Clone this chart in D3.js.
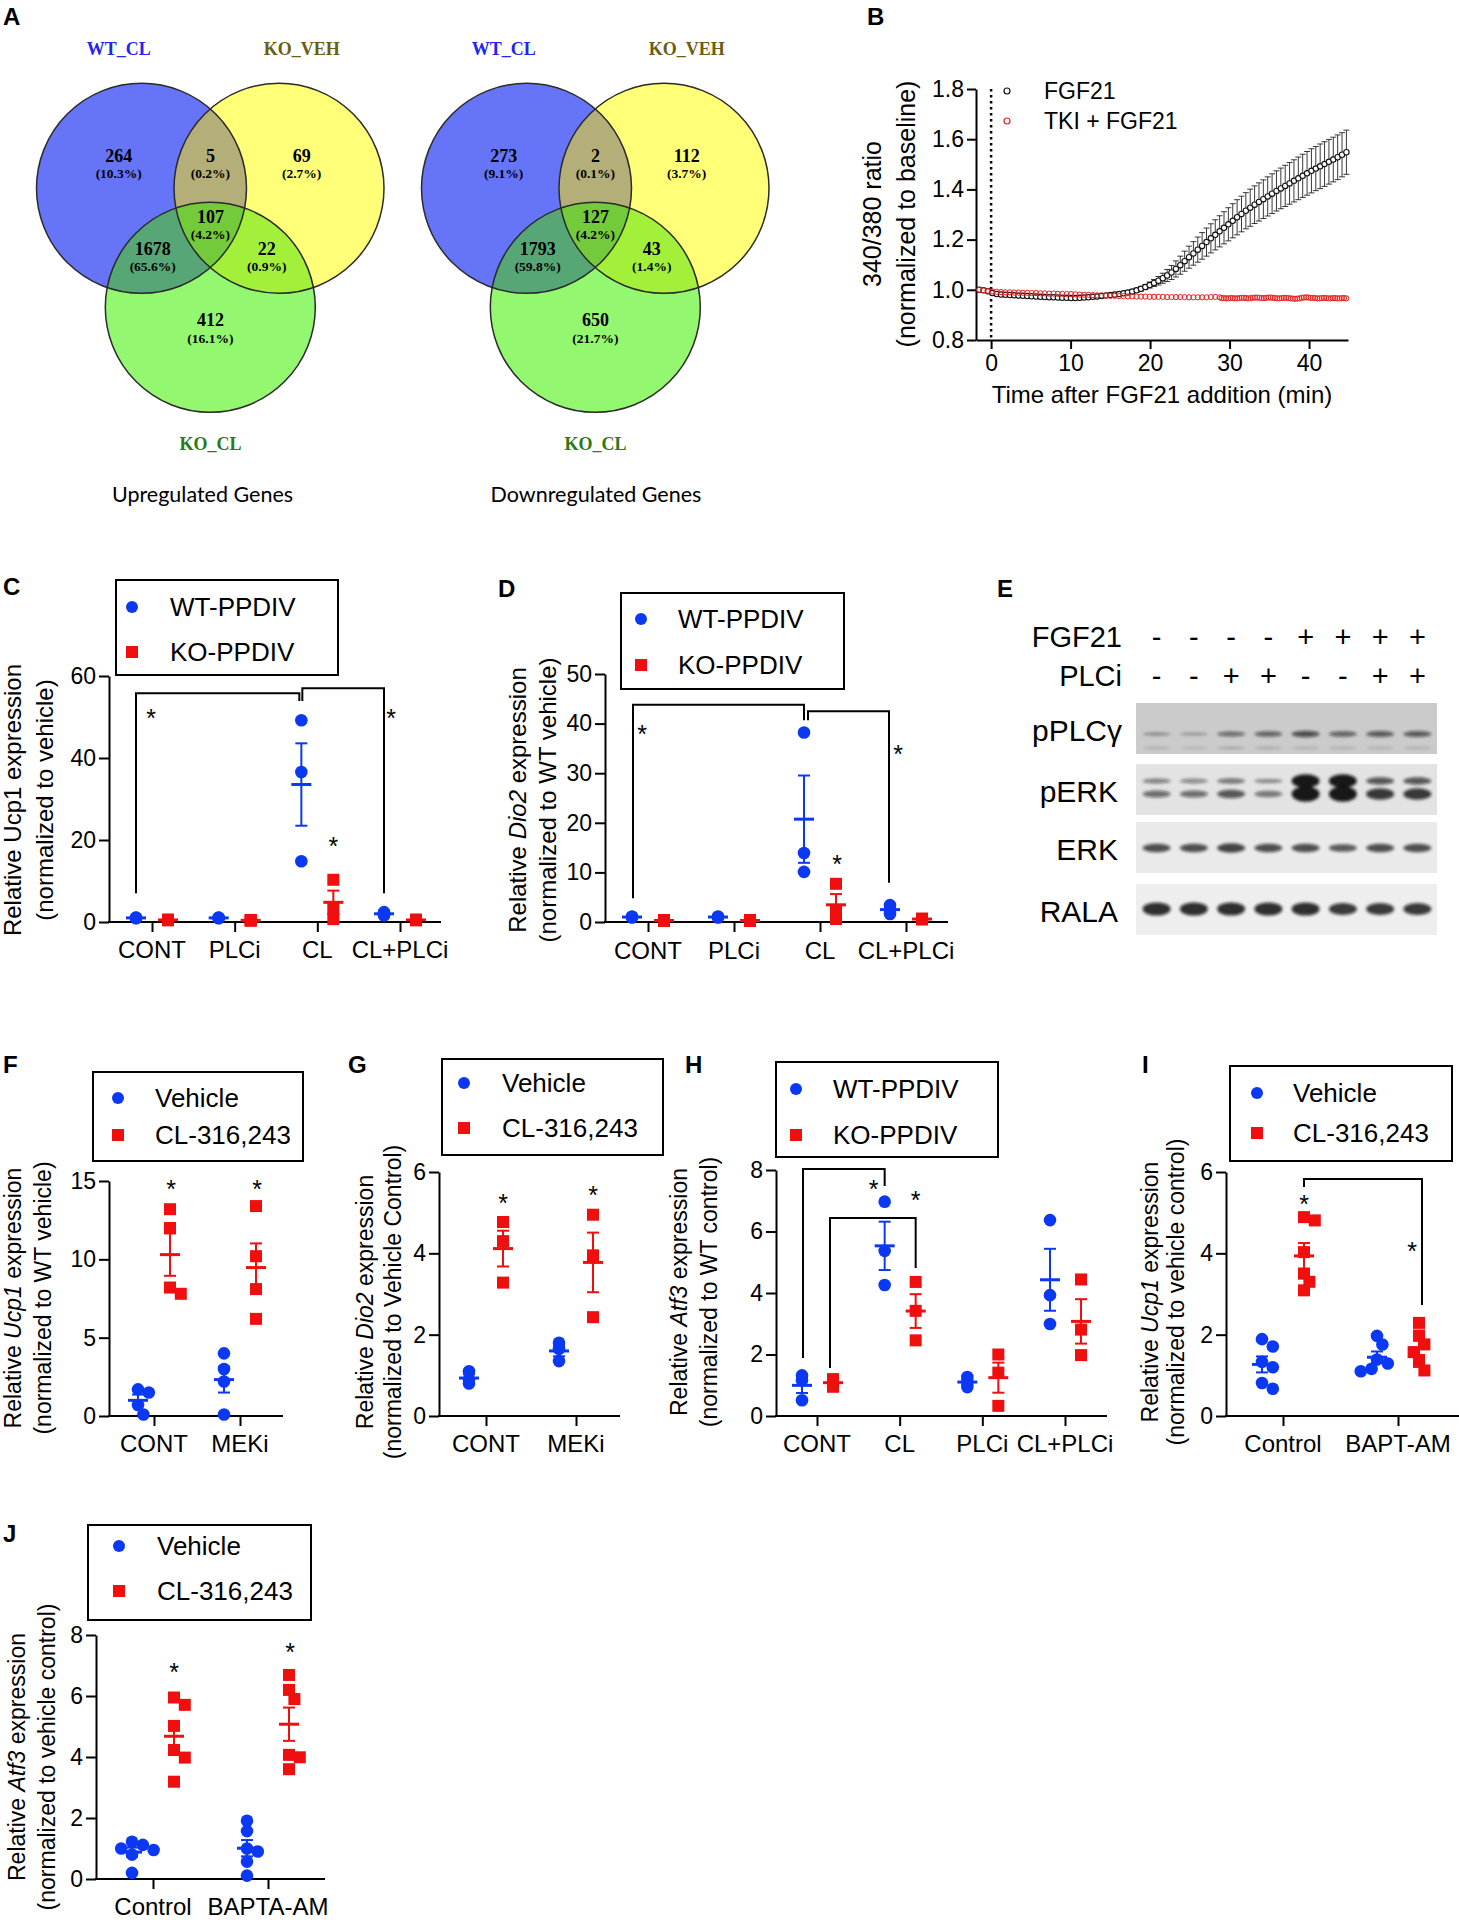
<!DOCTYPE html>
<html>
<head>
<meta charset="utf-8">
<script src="https://cdn.jsdelivr.net/npm/d3@7/dist/d3.min.js"></script>
<style>
  body { margin: 0; background: #fff; }
  svg { display: block; }
  text { font-family: "Liberation Sans", Arial, sans-serif; fill: #000; }
</style>
</head>
<body>
<div id="chart"></div>
<script>
// ---------------- data ----------------
// A: Venn region order: WT only, WT+VEH, VEH only, all three, WT+CL, VEH+CL, CL only
const vennSetNames = ["WT_CL", "KO_VEH", "KO_CL"];
const upCounts = [264, 5, 69, 107, 1678, 22, 412];
const upPercents = ["10.3%", "0.2%", "2.7%", "4.2%", "65.6%", "0.9%", "16.1%"];
const downCounts = [273, 2, 112, 127, 1793, 43, 650];
const downPercents = ["9.1%", "0.1%", "3.7%", "4.2%", "59.8%", "1.4%", "21.7%"];
const vennTitles = ["Upregulated Genes", "Downregulated Genes"];

// B: calcium imaging, sampled every 0.55 min from -1.5 min
const fgfTimeStart = -1.5, fgfTimeStep = 0.55;
const fgf21Mean = [1.000, 0.998, 0.994, 0.987, 0.983, 0.981, 0.980, 0.979, 0.978, 0.977,
  0.976, 0.975, 0.974, 0.973, 0.972, 0.971, 0.970, 0.970, 0.969, 0.968,
  0.968, 0.967, 0.967, 0.968, 0.969, 0.970, 0.972, 0.973, 0.975, 0.977,
  0.979, 0.981, 0.983, 0.986, 0.989, 0.993, 0.998, 1.004, 1.011, 1.019,
  1.027, 1.036, 1.046, 1.057, 1.069, 1.083, 1.098, 1.114, 1.130, 1.145,
  1.160, 1.175, 1.190, 1.205, 1.219, 1.233, 1.247, 1.261, 1.275, 1.289,
  1.302, 1.315, 1.327, 1.339, 1.350, 1.361, 1.372, 1.383, 1.394, 1.404,
  1.414, 1.424, 1.434, 1.444, 1.454, 1.464, 1.474, 1.483, 1.492, 1.501,
  1.510, 1.519, 1.528, 1.538, 1.548];
const fgf21Sem = [0.004, 0.004, 0.004, 0.004, 0.004, 0.004, 0.004, 0.004, 0.004, 0.004,
  0.004, 0.004, 0.004, 0.004, 0.004, 0.004, 0.004, 0.004, 0.004, 0.004,
  0.004, 0.004, 0.004, 0.004, 0.004, 0.004, 0.004, 0.004, 0.004, 0.004,
  0.004, 0.005, 0.005, 0.006, 0.006, 0.007, 0.008, 0.009, 0.010, 0.012,
  0.014, 0.017, 0.020, 0.024, 0.028, 0.032, 0.036, 0.040, 0.044, 0.047,
  0.050, 0.053, 0.056, 0.058, 0.060, 0.062, 0.064, 0.066, 0.068, 0.070,
  0.071, 0.072, 0.074, 0.075, 0.076, 0.077, 0.078, 0.079, 0.080, 0.081,
  0.082, 0.083, 0.084, 0.085, 0.086, 0.087, 0.088, 0.088, 0.089, 0.089,
  0.089, 0.089, 0.089, 0.088, 0.088];
const tkiTimeStart = -1.5, tkiTimeStep = 0.55;
const tkiMean = [1.000, 0.998, 0.996, 0.994, 0.992, 0.991, 0.990, 0.990, 0.989, 0.989,
  0.988, 0.988, 0.987, 0.987, 0.986, 0.986, 0.985, 0.985, 0.984, 0.984,
  0.983, 0.983, 0.982, 0.981, 0.980, 0.980, 0.979, 0.978, 0.978, 0.977,
  0.976, 0.976, 0.975, 0.975, 0.974, 0.974, 0.973, 0.973, 0.973, 0.972,
  0.972, 0.972, 0.972, 0.971, 0.971, 0.971, 0.971, 0.971, 0.970, 0.970,
  0.970, 0.970, 0.970, 0.971, 0.972, 0.970];
const tkiLateStart = 29.0, tkiLateStep = 0.28;
const tkiLateMean = [0.967, 0.967, 0.966, 0.966, 0.967, 0.967, 0.966, 0.966, 0.967, 0.968,
  0.968, 0.967, 0.966, 0.967, 0.968, 0.969, 0.969, 0.968, 0.967, 0.967,
  0.968, 0.969, 0.969, 0.968, 0.967, 0.966, 0.966, 0.967, 0.968, 0.968,
  0.967, 0.966, 0.965, 0.964, 0.965, 0.966, 0.968, 0.969, 0.970, 0.969,
  0.968, 0.968, 0.967, 0.966, 0.966, 0.967, 0.968, 0.967, 0.966, 0.966,
  0.967, 0.967, 0.966, 0.966, 0.967, 0.967, 0.966];
const traceNames = ["FGF21", "TKI + FGF21"];
const bTicksX = [0, 10, 20, 30, 40];
const bTicksY = [0.8, 1.0, 1.2, 1.4, 1.6, 1.8];

// C, D, H: genotype x treatment
const genotypeNames = ["WT-PPDIV", "KO-PPDIV"];
const plcCategories = ["CONT", "PLCi", "CL", "CL+PLCi"];
const ucp1WT = [[1.0, 1.1, 0.9], [1.0, 1.1, 0.9], [49.2, 36.6, 14.8], [2.4, 2.0, 1.6]];
const ucp1KO = [[0.5, 0.6, 0.4], [0.4, 0.3, 0.5], [10.3, 3.4, 0.7], [0.6, 0.5, 0.4]];
const dio2WT = [[1.0, 1.1, 0.9], [1.0, 1.1, 0.9], [38.2, 13.9, 10.1], [3.4, 2.5, 1.6]];
const dio2KO = [[0.3, 0.4, 0.2], [0.3, 0.4, 0.2], [7.7, 2.1, 0.6], [0.6, 0.7, 0.5]];
const atf3Categories = ["CONT", "CL", "PLCi", "CL+PLCi"];
const atf3WT = [[1.32, 1.16, 0.51], [6.97, 5.37, 4.26], [1.27, 1.10, 0.94], [6.37, 3.93, 2.99]];
const atf3KO = [[1.20, 1.10, 0.95], [4.36, 3.42, 2.46], [2.00, 1.41, 0.33], [4.44, 2.81, 1.98]];

// F, G, I, J: vehicle vs CL-316,243
const drugNames = ["Vehicle", "CL-316,243"];
const mekCategories = ["CONT", "MEKi"];
const fUcp1Veh = [[1.7, 1.5, 0.7, 0.1], [4.0, 3.0, 2.2, 0.1]];
const fUcp1CL = [[13.2, 12.0, 8.2, 7.8], [13.4, 10.2, 8.1, 6.2]];
const gDio2Veh = [[1.10, 0.90, 0.80], [1.80, 1.65, 1.35]];
const gDio2CL = [[4.77, 4.30, 3.28], [4.95, 3.95, 2.43]];
const baptCategoriesI = ["Control", "BAPT-AM"];
const iUcp1Veh = [[1.89, 1.71, 1.33, 1.20, 0.81, 0.67], [1.97, 1.76, 1.39, 1.29, 1.16, 1.10]];
const iUcp1CL = [[4.89, 4.81, 4.03, 3.50, 3.30, 3.09], [2.29, 1.98, 1.76, 1.57, 1.33, 1.12]];
const baptCategoriesJ = ["Control", "BAPTA-AM"];
const jAtf3Veh = [[1.22, 1.12, 1.00, 0.95, 0.80, 0.20], [1.91, 1.57, 1.00, 0.90, 0.57, 0.11]];
const jAtf3CL = [[5.95, 5.71, 5.02, 4.23, 3.98, 3.19], [6.69, 6.20, 5.90, 4.07, 3.99, 3.60]];

// E: western blot, band intensity per lane (0..1)
const fgf21Treat = ["-", "-", "-", "-", "+", "+", "+", "+"];
const plciTreat = ["-", "-", "+", "+", "-", "-", "+", "+"];
const blotNames = ["pPLCγ", "pERK", "ERK", "RALA"];
const pplcgBand = [0.30, 0.25, 0.55, 0.60, 0.70, 0.60, 0.65, 0.65];
const pplcgLower = [0.15, 0.12, 0.20, 0.18, 0.15, 0.15, 0.15, 0.15];
const perkUpper = [0.50, 0.45, 0.55, 0.40, 1.00, 1.00, 0.70, 0.70];
const perkLower = [0.60, 0.60, 0.70, 0.55, 1.00, 1.00, 0.85, 0.85];
const erkBand = [0.75, 0.75, 0.80, 0.75, 0.75, 0.70, 0.75, 0.75];
const ralaBand = [0.90, 0.90, 0.90, 0.90, 0.90, 0.85, 0.85, 0.85];

// ---------------- drawing ----------------
const BLUE = "#0b39f3", RED = "#f00e0e";
const svg = d3.select("#chart").append("svg")
  .attr("width", 1459).attr("height", 1920);

const defs = svg.append("defs");
defs.append("filter").attr("id", "blur")
  .attr("x", "-50%").attr("y", "-100%").attr("width", "200%").attr("height", "300%")
  .append("feGaussianBlur").attr("stdDeviation", 1.8);

// panel letters
[["A", 3, 25], ["B", 867, 25], ["C", 3, 595], ["D", 498, 597], ["E", 997, 597],
 ["F", 3, 1073], ["G", 348, 1073], ["H", 685, 1073], ["I", 1142, 1073], ["J", 3, 1542]]
  .forEach(([t, x, y]) => svg.append("text").attr("x", x).attr("y", y)
    .style("font-size", "24px").style("font-weight", "bold").text(t));

function richText(sel, str) {
  str.split("*").forEach((part, k) => {
    if (!part) return;
    sel.append("tspan").style("font-style", k % 2 ? "italic" : "normal").text(part);
  });
}

// ---------- A: Venn diagrams ----------
function venn(ox, counts, pcts, title, titleX, id) {
  const E = [{ cx: 141.5, cy: 188.3 }, { cx: 279, cy: 188.3 }, { cx: 210.3, cy: 307.3 }];
  const r = 105;
  E.forEach((e, i) => {
    defs.append("clipPath").attr("id", `${id}c${i}`)
      .append("circle").attr("cx", e.cx + ox).attr("cy", e.cy).attr("r", r);
  });
  const g = svg.append("g");
  const circ = (sel, e, fill) => sel.append("circle").attr("cx", e.cx + ox).attr("cy", e.cy)
    .attr("r", r).attr("fill", fill);
  circ(g, E[0], "#6675f8");
  circ(g, E[1], "#ffff78");
  circ(g, E[2], "#93f76f");
  circ(g.append("g").attr("clip-path", `url(#${id}c0)`), E[1], "#b4ae79");
  circ(g.append("g").attr("clip-path", `url(#${id}c0)`), E[2], "#57a676");
  circ(g.append("g").attr("clip-path", `url(#${id}c1)`), E[2], "#a3f03b");
  circ(g.append("g").attr("clip-path", `url(#${id}c0)`).append("g").attr("clip-path", `url(#${id}c1)`),
    E[2], "#73ca3a");
  E.forEach(e => circ(g, e, "none").attr("stroke", "#2a2a2a").attr("stroke-width", 1.5));

  const out = svg.append("g").attr("transform", `translate(${ox},0)`);
  const pos = [[118.7, 157], [210.4, 157], [301.7, 157], [210.4, 218.3], [152.7, 250], [266.8, 250], [210.4, 321.7]];
  const serif = (x, y, s, size, color) => out.append("text")
    .attr("x", x).attr("y", y).attr("text-anchor", "middle")
    .style("font-family", "'Liberation Serif', 'Times New Roman', serif")
    .style("font-weight", "bold").style("font-size", size + "px")
    .style("fill", color).text(s);
  counts.forEach((c, i) => {
    serif(pos[i][0], pos[i][1] + 4.5, c, 18, "#000");
    serif(pos[i][0], pos[i][1] + 21, `(${pcts[i]})`, 13.5, "#000");
  });
  const namePos = [[118.7, 55], [301.7, 55], [210.4, 450]];
  const nameCol = ["#1e27f0", "#6b5d12", "#2a7a16"];
  vennSetNames.forEach((n, i) => serif(namePos[i][0], namePos[i][1], n, 18, nameCol[i]));
  svg.append("text").attr("x", titleX).attr("y", 502).attr("text-anchor", "middle")
    .style("font-family", "Lato, 'Open Sans', sans-serif").style("font-size", "21.5px").text(title);
}
venn(0, upCounts, upPercents, vennTitles[0], 202.5, "vu");
venn(385, downCounts, downPercents, vennTitles[1], 596, "vd");

// ---------- B: calcium trace ----------
(function () {
  const g = svg.append("g");
  const x = d3.scaleLinear().domain([-1.9, 44.9]).range([976, 1348]);
  const y = d3.scaleLinear().domain([0.8, 1.8]).range([340, 89]);
  const ya = g.append("g").attr("transform", "translate(976,0)")
    .call(d3.axisLeft(y).tickValues(bTicksY).tickFormat(d3.format(".1f")).tickSize(9).tickSizeOuter(0).tickPadding(3));
  const xa = g.append("g").attr("transform", "translate(0,340)")
    .call(d3.axisBottom(x).tickValues(bTicksX).tickFormat(d3.format("d")).tickSize(9).tickSizeOuter(0).tickPadding(6));
  [ya, xa].forEach(a => {
    a.selectAll("path,line").attr("stroke", "#000").attr("stroke-width", 2);
    a.selectAll("text").style("font-size", "23px").attr("fill", "#000");
  });
  g.append("line").attr("x1", x(0)).attr("x2", x(0)).attr("y1", y(1.8)).attr("y2", y(0.8))
    .attr("stroke", "#000").attr("stroke-width", 2.5).attr("stroke-dasharray", "2.5,3.5");

  const fgf = fgf21Mean.map((m, i) => ({ t: fgfTimeStart + i * fgfTimeStep, m, s: fgf21Sem[i] }));
  const tki = tkiMean.map((m, i) => ({ t: tkiTimeStart + i * tkiTimeStep, m }))
    .concat(tkiLateMean.map((m, i) => ({ t: tkiLateStart + i * tkiLateStep, m })));

  const eb = g.append("g").attr("stroke", "#222").attr("stroke-width", 0.9);
  fgf.filter(d => d.s > 0.006).forEach(d => {
    const xx = x(d.t), y1 = y(d.m - d.s), y2 = y(d.m + d.s);
    eb.append("line").attr("x1", xx).attr("x2", xx).attr("y1", y1).attr("y2", y2);
    eb.append("line").attr("x1", xx - 3).attr("x2", xx + 3).attr("y1", y1).attr("y2", y1);
    eb.append("line").attr("x1", xx - 3).attr("x2", xx + 3).attr("y1", y2).attr("y2", y2);
  });
  g.selectAll(".fgf").data(fgf).join("circle")
    .attr("cx", d => x(d.t)).attr("cy", d => y(d.m)).attr("r", 2.7)
    .attr("fill", "#fff").attr("stroke", "#111").attr("stroke-width", 1.1);
  g.selectAll(".tki").data(tki).join("circle")
    .attr("cx", d => x(d.t)).attr("cy", d => y(d.m)).attr("r", 2.6)
    .attr("fill", "none").attr("stroke", "#e82020").attr("stroke-width", 1);

  // legend
  [["#111", 91], ["#e82020", 121]].forEach(([c, yy], k) => {
    g.append("circle").attr("cx", 1007).attr("cy", yy).attr("r", 3)
      .attr("fill", "none").attr("stroke", c).attr("stroke-width", 1.2);
    g.append("text").attr("x", 1044).attr("y", yy).attr("dominant-baseline", "central")
      .style("font-size", "23px").text(traceNames[k]);
  });
  // axis titles
  g.append("text").attr("x", 1162).attr("y", 403).attr("text-anchor", "middle")
    .style("font-size", "24px").text("Time after FGF21 addition (min)");
  ["340/380 ratio", "(normalized to baseline)"].forEach((t, k) => {
    g.append("text").attr("transform", `translate(${[872, 906][k]},214) rotate(-90)`)
      .attr("text-anchor", "middle").attr("dominant-baseline", "central")
      .style("font-size", "25px").text(t);
  });
})();

// ---------- dot plot panels ----------
// spread overlapping points sideways, like a scatter dot plot
function swarm(vals, y, r, spread) {
  const placed = [];
  const pts = vals.map(v => ({ v, py: y(v) })).sort((a, b) => a.py - b.py);
  pts.forEach(p => {
    p.dx = 0;
    if (spread) {
      const cands = [0];
      for (let k = 1; k < 8; k++) cands.push(k * r * 0.9, -k * r * 0.9);
      const found = cands.find(dx => placed.every(q => Math.hypot(q.dx - dx, q.py - p.py) >= 1.6 * r));
      if (found !== undefined) p.dx = found;
    }
    placed.push(p);
  });
  return pts;
}

function dotPanel(p) {
  const g = svg.append("g");
  const y = d3.scaleLinear().domain([0, p.yMax]).range([p.y0, p.yTop]);
  const x = d3.scalePoint().domain(p.categories).range(p.xRange);

  const ya = g.append("g").attr("transform", `translate(${p.axisX},0)`)
    .call(d3.axisLeft(y).tickValues(p.ticks).tickFormat(d3.format("d"))
      .tickSize(10).tickSizeOuter(0).tickPadding(3));
  const xa = g.append("g").attr("transform", `translate(0,${p.y0})`)
    .call(d3.axisBottom(x).tickSize(10).tickSizeOuter(0));
  xa.select(".domain").remove();
  xa.selectAll("text").remove();
  g.append("line").attr("x1", p.axisX - 1).attr("x2", p.xEnd).attr("y1", p.y0).attr("y2", p.y0)
    .attr("stroke", "#000").attr("stroke-width", 2);
  [ya, xa].forEach(a => {
    a.selectAll("path,line").attr("stroke", "#000").attr("stroke-width", 2);
    a.selectAll("text").style("font-size", "23px").attr("fill", "#000");
  });
  g.selectAll(".cat").data(p.categories).join("text")
    .attr("x", d => x(d)).attr("y", p.labelY).attr("text-anchor", "middle")
    .style("font-size", "24px").text(d => d);

  // points, means and SEM
  const R = 6;
  p.series.forEach(s => {
    s.values.forEach((vals, ci) => {
      const cx = x(p.categories[ci]) + s.dx;
      const pts = swarm(vals, y, R, p.spread);
      pts.forEach(pt => {
        if (s.shape === "circle") {
          g.append("circle").attr("cx", cx + pt.dx).attr("cy", pt.py).attr("r", R + 0.3).attr("fill", s.color);
        } else {
          g.append("rect").attr("x", cx + pt.dx - R).attr("y", pt.py - R)
            .attr("width", 2 * R).attr("height", 2 * R).attr("fill", s.color);
        }
      });
      const m = d3.mean(vals), se = d3.deviation(vals) / Math.sqrt(vals.length);
      g.append("line").attr("x1", cx - 10).attr("x2", cx + 10).attr("y1", y(m)).attr("y2", y(m))
        .attr("stroke", s.color).attr("stroke-width", 3);
      const eg = g.append("g").attr("stroke", s.color).attr("stroke-width", 2);
      eg.append("line").attr("x1", cx).attr("x2", cx).attr("y1", y(m - se)).attr("y2", y(m + se));
      [m - se, m + se].forEach(v => eg.append("line").attr("x1", cx - 6).attr("x2", cx + 6)
        .attr("y1", y(v)).attr("y2", y(v)));
    });
  });

  // significance brackets and stars
  (p.brackets || []).forEach(b => {
    const x1 = x(p.categories[b.c1]) + b.dx1, x2 = x(p.categories[b.c2]) + b.dx2;
    g.append("path").attr("d", `M${x1},${y(b.lo1)}V${y(b.top)}H${x2}V${y(b.lo2)}`)
      .attr("fill", "none").attr("stroke", "#000").attr("stroke-width", 2);
  });
  (p.stars || []).forEach(st => {
    g.append("text").attr("x", x(p.categories[st.c]) + st.dx).attr("y", y(st.v) + 14)
      .attr("text-anchor", "middle").style("font-size", "25px").text("*");
  });

  // legend
  const L = p.legend;
  g.append("rect").attr("x", L.box[0]).attr("y", L.box[1]).attr("width", L.box[2]).attr("height", L.box[3])
    .attr("fill", "none").attr("stroke", "#000").attr("stroke-width", 2);
  p.series.forEach((s, k) => {
    const yy = L.ys[k];
    if (s.shape === "circle") {
      g.append("circle").attr("cx", L.sx).attr("cy", yy).attr("r", R).attr("fill", s.color);
    } else {
      g.append("rect").attr("x", L.sx - R).attr("y", yy - R).attr("width", 2 * R).attr("height", 2 * R).attr("fill", s.color);
    }
    g.append("text").attr("x", L.tx).attr("y", yy).attr("dominant-baseline", "central")
      .style("font-size", "26px").text(s.name);
  });

  // y-axis title
  p.ylab.lines.forEach((t, k) => {
    const tx = g.append("text").attr("transform", `translate(${p.ylab.xs[k]},${p.ylab.cy}) rotate(-90)`)
      .attr("text-anchor", "middle").attr("dominant-baseline", "central")
      .style("font-size", p.ylab.size + "px");
    richText(tx, t);
  });
}

// C
dotPanel({
  categories: plcCategories, spread: false,
  series: [{ values: ucp1WT, name: genotypeNames[0], shape: "circle", color: BLUE, dx: -16 },
           { values: ucp1KO, name: genotypeNames[1], shape: "square", color: RED, dx: 16 }],
  axisX: 109, xEnd: 441, y0: 922, yTop: 676, yMax: 60, ticks: [0, 20, 40, 60], xRange: [152, 400], labelY: 958,
  legend: { box: [116, 580, 222, 95], sx: 132, tx: 170, ys: [607, 652] },
  ylab: { lines: ["Relative Ucp1 expression", "(normalized to vehicle)"], xs: [12, 44], cy: 800, size: 24 },
  brackets: [{ c1: 0, dx1: -16, lo1: 7, top: 55.8, c2: 2, dx2: -18, lo2: 53.9 },
             { c1: 2, dx1: -15, lo1: 53.9, top: 57, c2: 3, dx2: -16, lo2: 7 }],
  stars: [{ c: 0, dx: -1, v: 51 }, { c: 3, dx: -9, v: 51 }, { c: 2, dx: 16, v: 19.8 }]
});

// D
dotPanel({
  categories: plcCategories, spread: false,
  series: [{ values: dio2WT, name: genotypeNames[0], shape: "circle", color: BLUE, dx: -16 },
           { values: dio2KO, name: genotypeNames[1], shape: "square", color: RED, dx: 16 }],
  axisX: 605, xEnd: 948, y0: 922, yTop: 674, yMax: 50, ticks: [0, 10, 20, 30, 40, 50], xRange: [648, 906], labelY: 959,
  legend: { box: [621, 593, 223, 96], sx: 641, tx: 678, ys: [619, 665] },
  ylab: { lines: ["Relative *Dio2* expression", "(normalized to WT vehicle)"], xs: [517, 547], cy: 800, size: 24 },
  brackets: [{ c1: 0, dx1: -15, lo1: 4.8, top: 43.8, c2: 2, dx2: -16, lo2: 40.7 },
             { c1: 2, dx1: -12, lo1: 40.7, top: 42.5, c2: 3, dx2: -17, lo2: 7.9 }],
  stars: [{ c: 0, dx: -6, v: 38.9 }, { c: 3, dx: -8, v: 34.9 }, { c: 2, dx: 17, v: 12.7 }]
});

// F
dotPanel({
  categories: mekCategories, spread: true,
  series: [{ values: fUcp1Veh, name: drugNames[0], shape: "circle", color: BLUE, dx: -16 },
           { values: fUcp1CL, name: drugNames[1], shape: "square", color: RED, dx: 16 }],
  axisX: 109, xEnd: 283, y0: 1416, yTop: 1181, yMax: 15, ticks: [0, 5, 10, 15], xRange: [154, 240], labelY: 1452,
  legend: { box: [93, 1072, 210, 89], sx: 118, tx: 155, ys: [1098, 1135] },
  ylab: { lines: ["Relative *Ucp1* expression", "(normalized to WT vehicle)"], xs: [13, 43], cy: 1298, size: 23 },
  stars: [{ c: 0, dx: 17, v: 14.8 }, { c: 1, dx: 17, v: 14.8 }]
});

// G
dotPanel({
  categories: mekCategories, spread: false,
  series: [{ values: gDio2Veh, name: drugNames[0], shape: "circle", color: BLUE, dx: -17 },
           { values: gDio2CL, name: drugNames[1], shape: "square", color: RED, dx: 17 }],
  axisX: 439, xEnd: 620, y0: 1416, yTop: 1172, yMax: 6, ticks: [0, 2, 4, 6], xRange: [486, 576], labelY: 1452,
  legend: { box: [442, 1059, 221, 96], sx: 464, tx: 502, ys: [1083, 1128] },
  ylab: { lines: ["Relative *Dio2* expression", "(normalized to Vehicle Control)"], xs: [365, 393], cy: 1302, size: 23 },
  stars: [{ c: 0, dx: 17, v: 5.36 }, { c: 1, dx: 17, v: 5.56 }]
});

// H
dotPanel({
  categories: atf3Categories, spread: false,
  series: [{ values: atf3WT, name: genotypeNames[0], shape: "circle", color: BLUE, dx: -15 },
           { values: atf3KO, name: genotypeNames[1], shape: "square", color: RED, dx: 16 }],
  axisX: 776, xEnd: 1107, y0: 1416, yTop: 1170, yMax: 8, ticks: [0, 2, 4, 6, 8], xRange: [817, 1065], labelY: 1452,
  legend: { box: [776, 1062, 222, 95], sx: 796, tx: 833, ys: [1089, 1135] },
  ylab: { lines: ["Relative *Atf3* expression", "(normalized to WT control)"], xs: [679, 709], cy: 1292, size: 23 },
  brackets: [{ c1: 0, dx1: -14, lo1: 1.89, top: 8.03, c2: 1, dx2: -15, lo2: 7.48 },
             { c1: 0, dx1: 13, lo1: 1.56, top: 6.44, c2: 1, dx2: 16, lo2: 4.81 }],
  stars: [{ c: 1, dx: -26, v: 7.54 }, { c: 1, dx: 16, v: 7.19 }]
});

// I
dotPanel({
  categories: baptCategoriesI, spread: true,
  series: [{ values: iUcp1Veh, name: drugNames[0], shape: "circle", color: BLUE, dx: -21 },
           { values: iUcp1CL, name: drugNames[1], shape: "square", color: RED, dx: 21 }],
  axisX: 1226, xEnd: 1459, y0: 1416, yTop: 1172, yMax: 6, ticks: [0, 2, 4, 6], xRange: [1283, 1398], labelY: 1452,
  legend: { box: [1230, 1066, 222, 95], sx: 1257, tx: 1293, ys: [1093, 1133] },
  ylab: { lines: ["Relative *Ucp1* expression", "(normalized to vehicle control)"], xs: [1150, 1176], cy: 1292, size: 23 },
  brackets: [{ c1: 0, dx1: 21, lo1: 5.63, top: 5.83, c2: 1, dx2: 24, lo2: 2.73 }],
  stars: [{ c: 0, dx: 21, v: 5.34 }, { c: 1, dx: 14, v: 4.18 }]
});

// J
dotPanel({
  categories: baptCategoriesJ, spread: true,
  series: [{ values: jAtf3Veh, name: drugNames[0], shape: "circle", color: BLUE, dx: -21 },
           { values: jAtf3CL, name: drugNames[1], shape: "square", color: RED, dx: 21 }],
  axisX: 96, xEnd: 325, y0: 1879, yTop: 1635, yMax: 8, ticks: [0, 2, 4, 6, 8], xRange: [153, 268], labelY: 1915,
  legend: { box: [88, 1525, 223, 95], sx: 119, tx: 157, ys: [1546, 1591] },
  ylab: { lines: ["Relative *Atf3* expression", "(normalized to vehicle control)"], xs: [17, 47], cy: 1757, size: 23 },
  stars: [{ c: 0, dx: 21, v: 6.95 }, { c: 1, dx: 22, v: 7.6 }]
});

// ---------- E: western blot ----------
(function () {
  const g = svg.append("g");
  const lane = d3.scaleBand().domain(d3.range(8)).range([1138, 1436]);
  const lc = i => lane(i) + lane.bandwidth() / 2;
  [["FGF21", 637, fgf21Treat], ["PLCi", 676, plciTreat]].forEach(([name, yy, signs]) => {
    g.append("text").attr("x", 1122).attr("y", yy).attr("text-anchor", "end")
      .attr("dominant-baseline", "central").style("font-size", "29px").text(name);
    g.selectAll(null).data(signs).join("text")
      .attr("x", (d, i) => lc(i)).attr("y", yy).attr("text-anchor", "middle")
      .attr("dominant-baseline", "central").style("font-size", "29px").text(d => d);
  });
  const rows = [
    { y: 703, bg: "#cbcbcb", lx: 1122, bands: [{ dy: 31, vals: pplcgBand, ry: 3.6 }, { dy: 45, vals: pplcgLower, ry: 3 }] },
    { y: 764, bg: "#e3e3e3", lx: 1118, bands: [{ dy: 17, vals: perkUpper, ry: 4 }, { dy: 30, vals: perkLower, ry: 4.6 }] },
    { y: 822, bg: "#eaeaea", lx: 1118, bands: [{ dy: 26, vals: erkBand, ry: 4.2 }] },
    { y: 884, bg: "#eeeeee", lx: 1118, bands: [{ dy: 25, vals: ralaBand, ry: 4.8 }] }
  ];
  rows.forEach((r, k) => {
    g.append("rect").attr("x", 1136).attr("y", r.y).attr("width", 301).attr("height", 51).attr("fill", r.bg);
    const bg = g.append("g").attr("filter", "url(#blur)");
    r.bands.forEach(b => {
      bg.selectAll(null).data(b.vals).join("ellipse")
        .attr("cx", (d, i) => lc(i)).attr("cy", r.y + b.dy)
        .attr("rx", 14).attr("ry", d => b.ry * (0.5 + 1.2 * d * d * d))
        .attr("fill", "#111").attr("fill-opacity", d => Math.min(1, d * 0.95));
    });
    g.append("text").attr("x", r.lx).attr("y", r.y + 27).attr("text-anchor", "end")
      .attr("dominant-baseline", "central").style("font-size", "30px").text(blotNames[k]);
  });
})();
</script>
</body>
</html>
